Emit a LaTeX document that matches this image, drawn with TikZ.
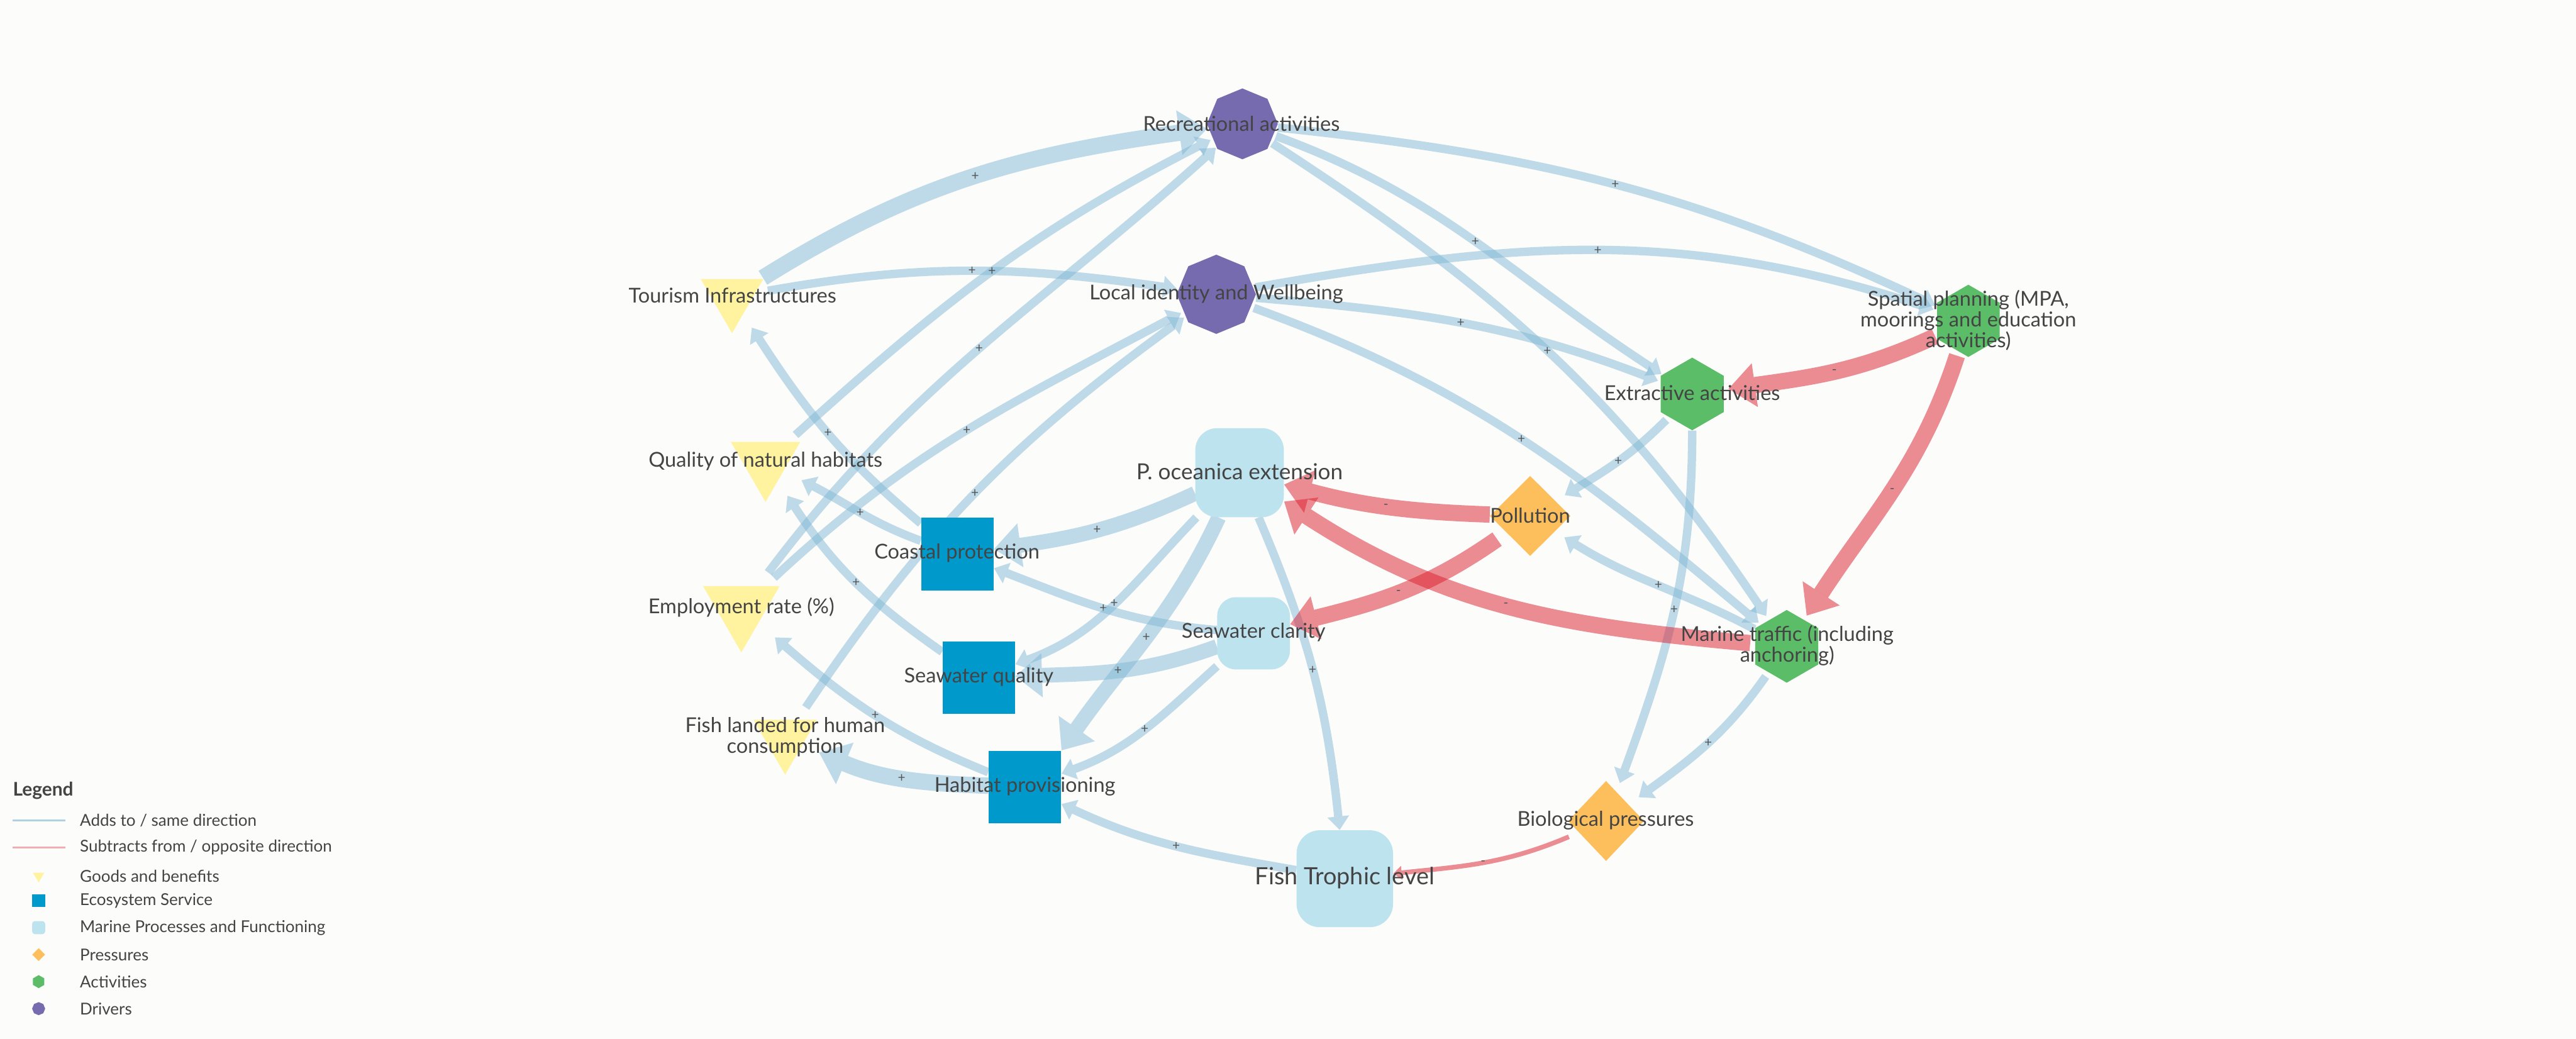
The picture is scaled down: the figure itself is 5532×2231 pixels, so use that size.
\documentclass[tikz,border=0pt]{standalone}
\usepackage{fontspec}
\setmainfont{Lato}
\usetikzlibrary{shapes.geometric,arrows.meta}
\definecolor{bgc}{RGB}{252,252,250}
\definecolor{txt}{RGB}{68,68,68}
\definecolor{markc}{RGB}{85,85,85}
\definecolor{edgeblue}{RGB}{124,182,213}
\definecolor{edgered}{RGB}{220,30,45}
\definecolor{drvpurple}{RGB}{119,107,176}
\definecolor{actgreen}{RGB}{91,189,103}
\definecolor{presorange}{RGB}{253,191,92}
\definecolor{esblue}{RGB}{0,153,204}
\definecolor{mplight}{RGB}{189,227,239}
\definecolor{gbyellow}{RGB}{255,243,160}
\tikzset{
  hub/.style={circle,inner sep=0pt,minimum size=#1},
  boxhub/.style 2 args={rectangle,inner sep=0pt,minimum width=#1,minimum height=#2},
  gbtri/.style={regular polygon,regular polygon sides=3,shape border rotate=180,fill=gbyellow,inner sep=0pt,minimum size=#1},
  drvoct/.style={regular polygon,regular polygon sides=8,shape border rotate=22.5,fill=drvpurple,inner sep=0pt,minimum size=#1},
  acthex/.style={regular polygon,regular polygon sides=6,shape border rotate=30,fill=actgreen,inner sep=0pt,minimum size=#1},
  presdia/.style 2 args={diamond,fill=presorange,inner sep=0pt,minimum width=#1,minimum height=#2},
  esbox/.style={rectangle,fill=esblue,inner sep=0pt,minimum size=#1},
  mpbox/.style n args={3}{rectangle,fill=mplight,inner sep=0pt,minimum width=#1,minimum height=#2,rounded corners=#3},
  lbl/.style={text=txt,inner sep=0pt,align=center,font=\fontsize{12.5}{12.8}\selectfont},
  legtxt/.style={anchor=west,inner sep=0pt,text=txt,font=\fontsize{10}{11}\selectfont},
  signmark/.style={text=markc,inner sep=1pt,font=\fontsize{8}{8}\selectfont,opacity=1,text opacity=1},
  bthin/.style={draw=edgeblue,opacity=0.48,line width=0.18cm,-{Triangle[length=0.29cm,width=0.47cm,line width=0pt]}},
  bthick/.style={draw=edgeblue,opacity=0.48,line width=0.32cm,-{Triangle[length=0.57cm,width=0.95cm,line width=0pt]}},
  bxl/.style={draw=edgeblue,opacity=0.48,line width=0.35cm,-{Triangle[length=0.6cm,width=0.97cm,line width=0pt]}},
  rthick/.style={draw=edgered,opacity=0.5,line width=0.35cm,-{Triangle[length=0.57cm,width=0.95cm,line width=0pt]}},
  rthin/.style={draw=edgered,opacity=0.5,line width=0.1cm,-{Triangle[length=0.18cm,width=0.3cm,line width=0pt]}},
}
\begin{document}
\begin{tikzpicture}[x=0.01cm,y=0.01cm]
\fill[bgc] (0,0) rectangle (5532,2231);
\useasboundingbox (0,0) rectangle (5532,2231);

% connection hubs
\node[hub=1.52cm] (R) at (2668,1965) {};
\node[hub=1.70cm] (L) at (2612,1599) {};
\node[hub=1.55cm] (T) at (1572,1593) {};
\node[hub=1.72cm] (Q) at (1644,1239) {};
\node[hub=1.90cm] (E) at (1592,925) {};
\node[hub=1.57cm] (FL) at (1686,646) {};
\node[boxhub={1.56cm}{1.56cm}] (CP) at (2056,1041) {};
\node[boxhub={1.56cm}{1.56cm}] (SQ) at (2102,776) {};
\node[boxhub={1.56cm}{1.56cm}] (HP) at (2201,541) {};
\node[boxhub={1.90cm}{1.91cm}] (PO) at (2662,1216) {};
\node[boxhub={1.56cm}{1.55cm}] (SC) at (2692,871) {};
\node[boxhub={2.07cm}{2.08cm}] (FTL) at (2888,344) {};
\node[hub=1.72cm] (POL) at (3286,1123) {};
\node[hub=1.72cm] (BP) at (3449,468) {};
\node[hub=1.56cm] (MT) at (3837,843) {};
\node[hub=1.56cm] (EA) at (3634,1385) {};
\node[hub=1.56cm] (SP) at (4227,1542) {};

% connectors
\draw[bxl] (T) to[out=32,in=188] node[signmark]{+} (R);
\draw[bthin] (T) to[out=10,in=172] node[signmark]{+} (L);
\draw[bthin] (Q) to[out=42,in=207] node[signmark]{+} (R);
\draw[bthin] (E) to[out=53,in=222] node[signmark]{+} (R);
\draw[bthin] (E) to[out=43,in=208] node[signmark]{+} (L);
\draw[bthin] (FL) to[out=56,in=216] node[signmark]{+} (L);
\draw[bthin] (CP) to[out=140,in=-57] node[signmark]{+} (T);
\draw[bthin] (CP) to[out=160,in=-27] node[signmark]{+} (Q);
\draw[bthin] (SQ) to[out=145,in=-57] node[signmark]{+} (Q);
\draw[bthick] (PO) to[out=205,in=8] node[signmark]{+} (CP);
\draw[bthin] (SC) to[out=175,in=-21] node[signmark]{+} (CP);
\draw[bthin] (PO) to[out=226,in=20] node[signmark]{+} (SQ);
\draw[bthick] (PO) to[out=245,in=55] node[signmark]{+} (HP.north east);
\draw[bthick] (SC) to[out=200,in=2] node[signmark]{+} (SQ);
\draw[bthin] (SC) to[out=222,in=20] node[signmark]{+} (HP);
\draw[bthin] (PO) to[out=-67,in=96] node[signmark]{+} (FTL);
\draw[bxl] (HP) to[out=178,in=-23] node[signmark]{+} (FL);
\draw[bthin] (HP) to[out=158,in=-41] node[signmark]{+} (E);
\draw[bthin] (FTL) to[out=170,in=-25] node[signmark]{+} (HP);
\draw[bthin] (R) to[out=-6,in=155] node[signmark]{+} (SP);
\draw[bthin] (L) to[out=10,in=162] node[signmark]{+} (SP);
\draw[bthin] (R) to[out=-20,in=147] node[signmark]{+} (EA);
\draw[bthin] (L) to[out=-5,in=159] node[signmark]{+} (EA);
\draw[bthin] (R) to[out=-33,in=124] node[signmark]{+} (MT);
\draw[bthin] (L) to[out=-20,in=140] node[signmark]{+} (MT);
\draw[bthin] (EA) to[out=225,in=31] node[signmark]{+} (POL);
\draw[bthin] (EA) to[out=-90,in=70] node[signmark]{+} (BP);
\draw[bthin] (MT) to[out=152,in=-32] node[signmark]{+} (POL);
\draw[bthin] (MT) to[out=235,in=36] node[signmark]{+} (BP);
\draw[rthick] (POL) to[out=178,in=-15] node[signmark]{-} (PO);
\draw[rthick] (POL) to[out=215,in=14] node[signmark]{-} (SC);
\draw[rthick] (MT) to[out=175,in=-33] node[signmark]{-} (PO);
\draw[rthick] (SP) to[out=205,in=8] node[signmark]{-} (EA);
\draw[rthick] (SP) to[out=252,in=57] node[signmark]{-} (MT);
\draw[rthin] (BP) to[out=203,in=6] node[signmark]{-} (FTL);

% shapes
\node[gbtri=1.55cm] (Tsh) at (T) {};
\node[gbtri=1.72cm] (Qsh) at (Q) {};
\node[gbtri=1.9cm] (Esh) at (E) {};
\node[gbtri=1.57cm] (FLsh) at (FL) {};
\node[esbox=1.56cm] (CPsh) at (CP) {};
\node[esbox=1.56cm] (SQsh) at (SQ) {};
\node[esbox=1.56cm] (HPsh) at (HP) {};
\node[mpbox={1.9cm}{1.91cm}{0.47cm}] (POsh) at (PO) {};
\node[mpbox={1.56cm}{1.55cm}{0.4cm}] (SCsh) at (SC) {};
\node[mpbox={2.07cm}{2.08cm}{0.5cm}] (FTLsh) at (FTL) {};
\node[presdia={1.73cm}{1.72cm}] (POLsh) at (POL) {};
\node[presdia={1.63cm}{1.72cm}] (BPsh) at (BP) {};
\node[acthex=1.56cm] (MTsh) at (MT) {};
\node[acthex=1.56cm] (EAsh) at (EA) {};
\node[acthex=1.55cm] (SPsh) at (SP) {};
\node[drvoct=1.52cm] (Rsh) at (R) {};
\node[drvoct=1.70cm] (Lsh) at (L) {};

% labels
\node[lbl] (Rlab) at (2666,1966) {Recreational activities};
\node[lbl] (Llab) at (2612,1600) {Local identity and Wellbeing};
\node[lbl] (Tlab) at (1573,1596) {Tourism Infrastructures};
\node[lbl] (Qlab) at (1644,1240) {Quality of natural habitats};
\node[lbl] (Elab) at (1592,927) {Employment rate (\%)};
\node[lbl] (FLlab) at (1686,648) {Fish landed for human\\consumption};
\node[lbl] (CPlab) at (2055,1043) {Coastal protection};
\node[lbl] (SQlab) at (2102,777) {Seawater quality};
\node[lbl] (HPlab) at (2201,542) {Habitat provisioning};
\node[lbl,font=\fontsize{13.5}{14}\selectfont] (POlab) at (2662,1218) {P. oceanica extension};
\node[lbl] (SClab) at (2692,873) {Seawater clarity};
\node[lbl,font=\fontsize{14.5}{15}\selectfont] (FTLlab) at (2888,346) {Fish Trophic level};
\node[lbl] (POLlab) at (3286,1124) {Pollution};
\node[lbl] (BPlab) at (3448,469) {Biological pressures};
\node[lbl] (MTlab) at (3838,845) {Marine traffic (including\\anchoring)};
\node[lbl] (EAlab) at (3634,1387) {Extractive activities};
\node[lbl] (SPlab) at (4227,1543) {Spatial planning (MPA,\\moorings and education\\activities)};

% legend
\node[anchor=west,inner sep=0pt,text=txt,font=\fontsize{11.5}{12}\selectfont\bfseries] (legtitle) at (27,533) {Legend};
\coordinate (lb1) at (27,469); \coordinate (lb2) at (140,469);
\draw[draw=edgeblue,opacity=0.6,line width=0.04cm] (lb1) -- (lb2);
\coordinate (lr1) at (27,411); \coordinate (lr2) at (140,411);
\draw[draw=edgered,opacity=0.35,line width=0.04cm] (lr1) -- (lr2);
\node[legtxt] (lt1) at (171,469) {Adds to / same direction};
\node[legtxt] (lt2) at (171,411) {Subtracts from / opposite direction};
\node[legtxt] (lt3) at (171,350) {Goods and benefits};
\node[legtxt] (lt4) at (171,297) {Ecosystem Service};
\node[legtxt] (lt5) at (171,239) {Marine Processes and Functioning};
\node[legtxt] (lt6) at (171,181) {Pressures};
\node[legtxt] (lt7) at (171,123) {Activities};
\node[legtxt] (lt8) at (171,65) {Drivers};
\node[gbtri=0.28cm] (li1) at (83,350) {};
\node[esbox=0.28cm] (li2) at (83,297) {};
\node[mpbox={0.28cm}{0.28cm}{0.06cm}] (li3) at (83,239) {};
\node[presdia={0.28cm}{0.28cm}] (li4) at (83,181) {};
\node[acthex=0.28cm] (li5) at (83,123) {};
\node[drvoct=0.28cm] (li6) at (83,65) {};
\end{tikzpicture}
\end{document}
